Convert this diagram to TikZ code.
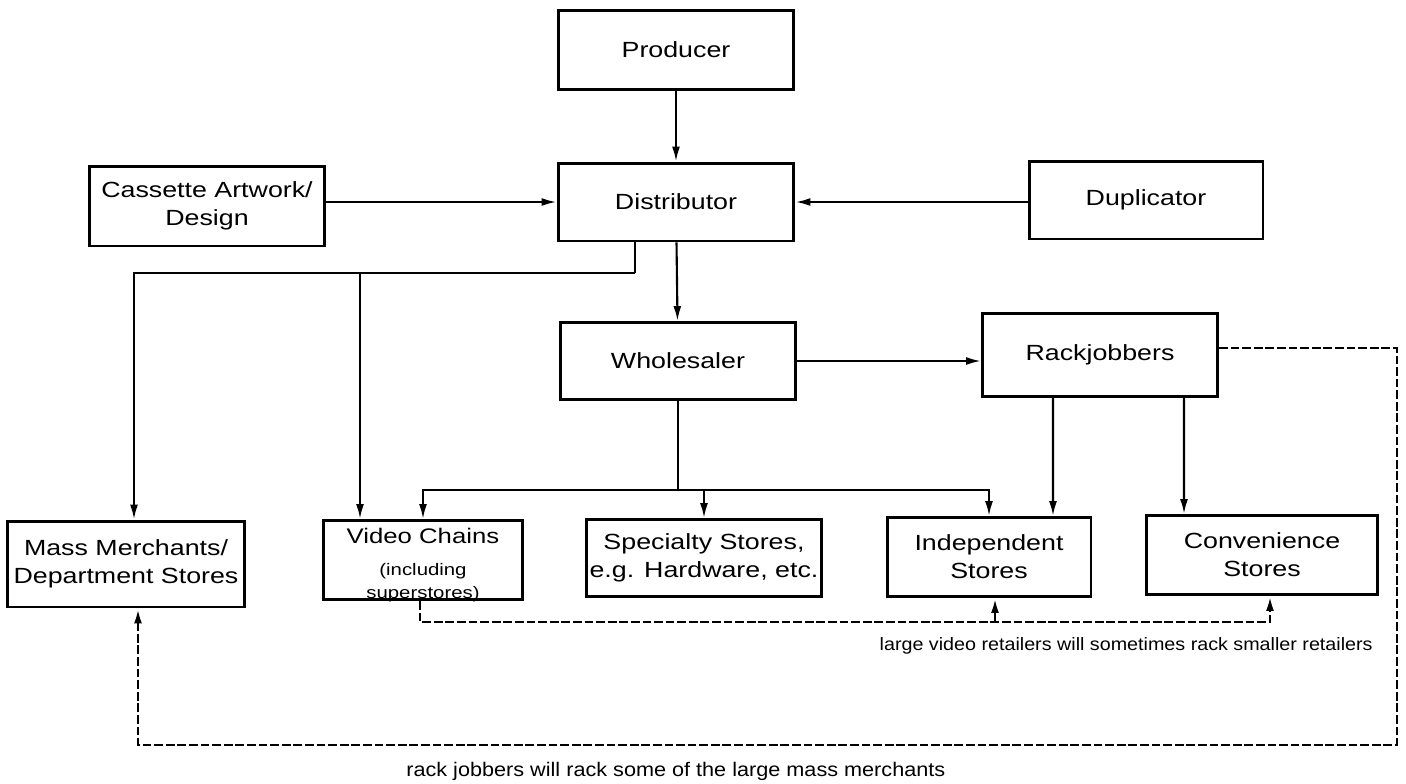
\documentclass[tikz,border=0pt]{standalone}
\usepackage{fontspec}
\setmainfont{Liberation Sans}[FakeStretch=1.22]
\newfontfamily\notefont{Liberation Sans}[FakeStretch=1.1]
\usetikzlibrary{arrows.meta}

\begin{document}
\begin{tikzpicture}[x=0.02cm,y=-0.02cm,
	box/.style={draw,line width=1.7pt,inner sep=2pt,align=center,
		font=\fontsize{12.5}{16}\selectfont},
	link/.style={line width=1.2pt},
	arr/.style={link,-{Latex[length=8.5pt,width=4.5pt]}},
	dashlink/.style={line width=1.5pt,dash pattern=on 5pt off 1.6pt,
		-{Latex[length=8.5pt,width=4.5pt]}},
	note/.style={font=\notefont\fontsize{10.2}{12}\selectfont,inner sep=0pt}]
	\useasboundingbox (0,0) rectangle (1406,784);
	% top of the chain
	\node[box,minimum width=4.72cm,minimum height=1.58cm] (producer) at (676,50) {Producer};
	\node[box,minimum width=4.72cm,minimum height=1.56cm] (distributor) at (676,202) {Distributor};
	\node[box,minimum width=4.70cm,minimum height=1.60cm] (cassette) at (207,206) {Cassette Artwork/\\Design};
	\node[box,minimum width=4.68cm,minimum height=1.56cm] (duplicator) at (1146,200) {Duplicator};
	\node[box,minimum width=4.72cm,minimum height=1.54cm] (wholesaler) at (678,361) {Wholesaler};
	\node[box,minimum width=4.70cm,minimum height=1.66cm] (rackjobbers) at (1100,355) {Rackjobbers};
	% retailers
	\node[box,minimum width=4.74cm,minimum height=1.72cm] (mass) at (126,564) {Mass Merchants/\\Department Stores};
	\node[box,minimum width=4.00cm,minimum height=1.58cm] (video) at (423,560) {};
	\node[align=center,inner sep=0pt,anchor=north,font=\fontsize{9.5}{13}\selectfont] (videotext) at (423,528)
		{{\fontsize{12}{14}\selectfont Video Chains}\\[5pt](including\\superstores)};
	\node[box,minimum width=4.72cm,minimum height=1.54cm] (specialty) at (704,558) {Specialty Stores,\\e.g. Hardware, etc.};
	\node[box,minimum width=4.08cm,minimum height=1.58cm] (independent) at (989,557) {Independent\\Stores};
	\node[box,minimum width=4.62cm,minimum height=1.58cm] (convenience) at (1262,555) {Convenience\\Stores};

	% solid connectors
	\draw[arr] (producer) -- (distributor);
	\draw[arr] (distributor.west -| cassette.east) -- (distributor.west);
	\draw[arr] (duplicator.west |- distributor.east) -- (distributor.east);
	\draw[arr] (distributor) -- (wholesaler);
	\coordinate (dsplit) at (635,273);
	\coordinate (vtap) at (360,273);
	\draw[link] (distributor.south -| dsplit) -- (dsplit);
	\draw[arr] (dsplit) -| ([xshift=0.16cm]mass.north);
	\draw[arr] (vtap) -- (vtap |- video.north);
	\coordinate (wsplit) at (678,490);
	\draw[link] (wholesaler.south) -- (wsplit);
	\draw[arr] (wsplit) -| (video.north);
	\draw[arr] (wsplit) -| (independent.north);
	\draw[arr] (wsplit -| specialty.north) -- (specialty.north);
	\draw[arr] (wholesaler.east) -- (wholesaler.east -| rackjobbers.west);
	\draw[arr] ([xshift=-0.94cm]rackjobbers.south) -- ([xshift=1.28cm]independent.north);
	\draw[arr] ([xshift=1.68cm]rackjobbers.south) -- ([xshift=-1.56cm]convenience.north);

	% dashed connectors
	\coordinate (vloop) at (420,622);
	\coordinate (cloop) at (1270,622);
	\draw[dashlink] (video.south -| vloop) -- (vloop) -- (cloop) -- (cloop |- convenience.south);
	\draw[dashlink] ([xshift=0.12cm]independent.south |- vloop) -- ([xshift=0.12cm]independent.south);
	\coordinate (rne) at (1397,348);
	\coordinate (rsw) at (138,745);
	\draw[dashlink] (rackjobbers.east |- rne) -- (rne) |- (rsw) -- (rsw |- mass.south);
	\node[note,anchor=east] (smallnote) at (1373,646) {large video retailers will sometimes rack smaller retailers};
	\node[note,anchor=west,font=\notefont\fontsize{11.2}{13}\selectfont] (massnote) at (406,771) {rack jobbers will rack some of the large mass merchants};
\end{tikzpicture}
\end{document}
